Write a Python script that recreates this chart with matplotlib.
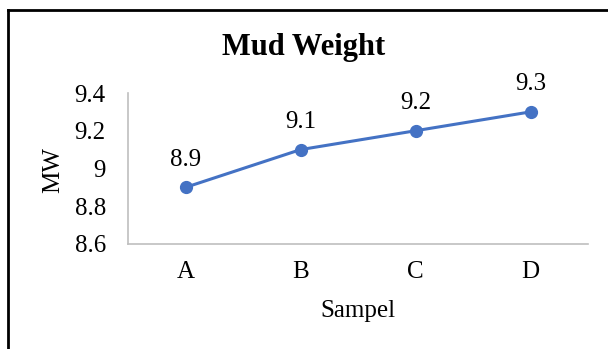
import matplotlib
matplotlib.use("Agg")
import matplotlib.pyplot as plt
from matplotlib.lines import Line2D

samples = ["A", "B", "C", "D"]
mw = [8.9, 9.1, 9.2, 9.3]
yticks = [8.6, 8.8, 9.0, 9.2, 9.4]
ytick_labels = ["8.6", "8.8", "9", "9.2", "9.4"]

plt.rcParams["font.family"] = ["Liberation Serif", "DejaVu Serif"]

fig = plt.figure(figsize=(6.08, 3.49), dpi=100)
ax = fig.add_axes([128 / 608, 1 - 244 / 349, 460 / 608, 151 / 349])

x = range(len(samples))
ax.plot(x, mw, color="#4472C4", linewidth=2.2, marker="o", markersize=8.5)
for xi, v in zip(x, mw):
    ax.annotate(f"{v:g}", (xi, v), xytext=(0, 12), textcoords="offset points",
                ha="center", va="bottom", fontsize=18)

ax.set_xlim(-0.5, len(samples) - 0.5)
ax.set_ylim(8.6, 9.4)
ax.set_xticks(list(x))
ax.set_xticklabels(samples, fontsize=18)
ax.set_yticks(yticks)
ax.set_yticklabels(ytick_labels, fontsize=18)
ax.tick_params(length=0, pad=16)
ax.tick_params(axis="x", pad=12)

for s in ["top", "right"]:
    ax.spines[s].set_visible(False)
for s in ["left", "bottom"]:
    ax.spines[s].set_color("#BFBFBF")
    ax.spines[s].set_linewidth(1.2)

ax.set_xlabel("Sampel", fontsize=18)
ax.set_ylabel("MW", fontsize=18)
ax.xaxis.set_label_coords(0.5, -(300 - 244) / 151)
ax.yaxis.set_label_coords((64 - 128) / 460, 0.49)
fig.text(0.5, 1 - 47 / 349, "Mud Weight", ha="center", va="center",
         fontsize=22, fontweight="bold")

# outer frame (only left and top visible in the crop)
fig.add_artist(Line2D([8 / 608, 8 / 608], [0, 1 - 10 / 349], color="black", linewidth=2,
                      transform=fig.transFigure))
fig.add_artist(Line2D([8 / 608, 1], [1 - 10 / 349, 1 - 10 / 349], color="black", linewidth=2,
                      transform=fig.transFigure))

fig.savefig("out.png", dpi=100)
